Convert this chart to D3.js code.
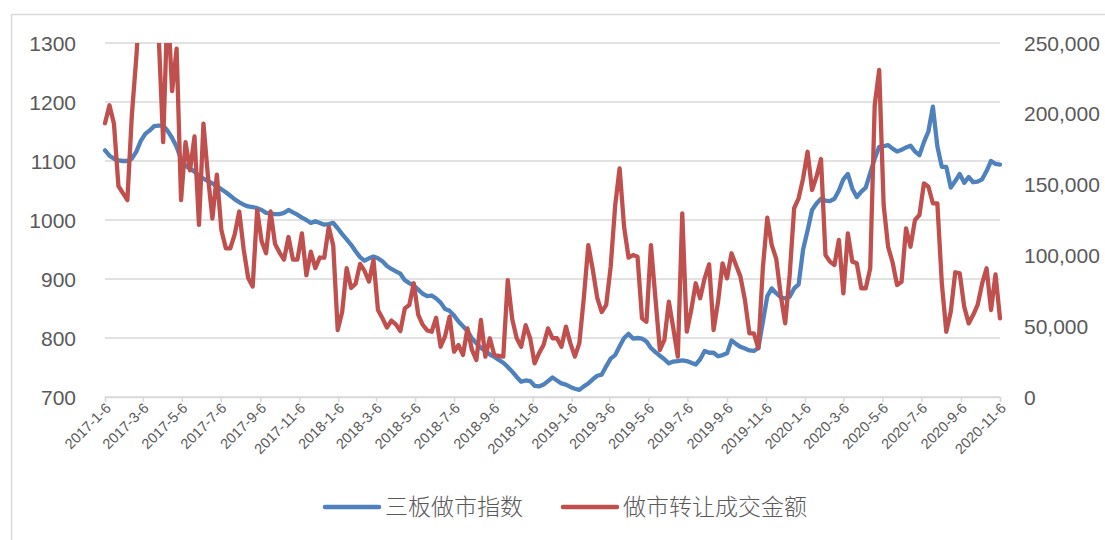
<!DOCTYPE html>
<html>
<head>
<meta charset="utf-8">
<script src="https://cdn.jsdelivr.net/npm/d3@7"></script>
<style>
body { margin: 0; background: #fff; }
text { font-family: "Liberation Sans", Arial, sans-serif; fill: #595959; }
.legend text { font-family: "Noto Sans CJK SC", sans-serif; font-weight: 300; }
</style>
</head>
<body>
<div id="chart"></div>
<script>
// weekly closing values, first week 2017-1-6
var indexValues = [
    1118, 1109, 1104, 1101, 1100, 1100, 1104, 1116, 1134, 1146,
    1152, 1159, 1160, 1160, 1151, 1139, 1124, 1103, 1092, 1087,
    1082, 1075, 1070, 1066, 1062, 1057, 1052, 1047, 1041, 1035,
    1030, 1026, 1023, 1022, 1020, 1017, 1012, 1011, 1010, 1010,
    1012, 1017, 1013, 1009, 1004, 1000, 995, 998, 995, 992,
    993, 995, 986, 976, 967, 958, 947, 937, 931, 935,
    938, 935, 930, 922, 917, 913, 909, 898, 893, 889,
    882, 875, 871, 872, 867, 860, 849, 846, 838, 828,
    820, 812, 799, 791, 783, 778, 772, 768, 763, 758,
    751, 743, 734, 726, 728, 727, 719, 718, 721, 727,
    733, 728, 723, 721, 717, 714, 712, 718, 723, 730,
    736, 738, 752, 765, 771, 786, 800, 807, 799, 800,
    799, 794, 783, 776, 770, 764, 757, 760, 761, 762,
    761, 758, 755, 764, 778, 775, 775, 769, 771, 774,
    796, 790, 785, 782, 779, 778, 783, 827, 871, 884,
    876, 869, 867, 870, 884, 891, 950, 982, 1017, 1028,
    1036, 1033, 1032, 1036, 1050, 1069, 1078, 1053, 1039, 1048,
    1055, 1080, 1104, 1124, 1125, 1127, 1121, 1116, 1119, 1123,
    1126, 1116, 1110, 1132, 1150, 1192, 1125, 1090, 1090, 1055,
    1066, 1078, 1063, 1073, 1064, 1065, 1069, 1083, 1100, 1095, 1094
];

var amountValues = [
    193300, 206000, 193000, 149000, 144000, 139000, 199000, 240000, 290000, 300000,
    280000, 290000, 255000, 180000, 280000, 216000, 246000, 139000, 180000, 160000,
    184000, 121500, 193000, 156000, 126000, 157000, 118000, 105000, 105000, 115000,
    131000, 104000, 84000, 78000, 132000, 110000, 101500, 131000, 108000, 102000,
    97000, 113000, 97000, 97000, 115600, 86000, 102600, 91000, 98500, 98400,
    120000, 107000, 47300, 60000, 91000, 77000, 80000, 94000, 89000, 81500,
    96800, 61400, 55600, 49000, 54000, 51300, 46500, 62600, 65000, 80300,
    58000, 51000, 47000, 46100, 56000, 35500, 43000, 56700, 32000, 36700,
    29700, 48500, 33200, 26100, 54400, 28500, 41500, 29700, 29000, 28500,
    82600, 55000, 41500, 35500, 50800, 41500, 23800, 31000, 36700, 48500,
    41500, 41500, 35500, 49700, 37900, 28500, 38000, 70000, 107300, 90000,
    70000, 60000, 65000, 92000, 135000, 161500, 120000, 98400, 100300, 99100,
    55600, 53200, 107300, 69700, 33200, 40300, 67300, 48500, 28500, 129700,
    46100, 61400, 80300, 69700, 83800, 93700, 47300, 67300, 94400, 83800,
    101500, 93200, 85000, 68500, 45000, 45000, 34400, 90900, 126600, 107300,
    97500, 72000, 52000, 86200, 133300, 140300, 154400, 173200, 146200, 155600,
    168100, 100300, 95600, 93200, 110900, 73200, 115600, 95600, 94400, 76800,
    76800, 90900, 206000, 231000, 135600, 106000, 95000, 79100, 81400, 119100,
    106100, 125000, 128500, 150900, 148500, 136800, 136800, 80300, 46100, 60200,
    88100, 87400, 63800, 52000, 57900, 65000, 80000, 90900, 61400, 86600, 55600
];

var tickLabels = [
    '2017-1-6', '2017-3-6', '2017-5-6', '2017-7-6', '2017-9-6', '2017-11-6',
    '2018-1-6', '2018-3-6', '2018-5-6', '2018-7-6', '2018-9-6', '2018-11-6',
    '2019-1-6', '2019-3-6', '2019-5-6', '2019-7-6', '2019-9-6', '2019-11-6',
    '2020-1-6', '2020-3-6', '2020-5-6', '2020-7-6', '2020-9-6', '2020-11-6'
];
var leftTicks = [700, 800, 900, 1000, 1100, 1200, 1300];
var rightTicks = [0, 50000, 100000, 150000, 200000, 250000];
var seriesNames = ['三板做市指数', '做市转让成交金额'];
var seriesColors = ['#4f81bd', '#c0504d'];

var margin = { top: 43, left: 105, bottom: 143, right: 105 },
    width = 1105 - margin.left - margin.right,
    height = 540 - margin.top - margin.bottom;

var parseDay = function (s) {
    var p = s.split('-');
    return new Date(+p[0], +p[1] - 1, +p[2]);
};

var start = parseDay('2017-1-6');
var dates = indexValues.map((d, i) => d3.timeDay.offset(start, i * 7));

var root = d3.select('#chart').append('svg')
    .attr('width', 1105)
    .attr('height', 540);

// chart frame
root.append('rect')
    .attr('x', 11.5).attr('y', 14.5)
    .attr('width', 1110).attr('height', 560)
    .attr('fill', 'none')
    .attr('stroke', '#d9d9d9')
    .attr('stroke-width', 1.5);

var svg = root.append('g')
    .attr('transform', 'translate(' + margin.left + ',' + margin.top + ')');

var x = d3.scaleTime()
    .domain([start, parseDay('2020-11-6')])
    .range([0, width]);
var y = d3.scaleLinear().domain([700, 1300]).range([height, 0]);
var y2 = d3.scaleLinear().domain([0, 250000]).range([height, 0]);

svg.append('clipPath').attr('id', 'plot')
    .append('rect').attr('x', -5).attr('y', 0)
    .attr('width', width + 10).attr('height', height + 5);

// gridlines
svg.selectAll('.grid')
    .data(leftTicks)
    .enter().append('line')
    .attr('class', 'grid')
    .attr('x1', 0).attr('x2', width)
    .attr('y1', d => y(d)).attr('y2', d => y(d))
    .attr('stroke', '#d9d9d9')
    .attr('stroke-width', 1.5);

// x axis
var tickDates = tickLabels.map(parseDay);
var xAxis = d3.axisBottom(x)
    .tickValues(tickDates)
    .tickSize(5)
    .tickFormat((d, i) => tickLabels[i]);

var gx = svg.append('g')
    .attr('transform', 'translate(0,' + height + ')')
    .call(xAxis);
gx.select('.domain').attr('stroke', '#d9d9d9').attr('stroke-width', 1.5);
gx.selectAll('.tick line').attr('stroke', '#d9d9d9').attr('stroke-width', 1.5);
gx.selectAll('.tick text')
    .attr('text-anchor', 'end')
    .attr('dx', null).attr('dy', null)
    .attr('x', -4).attr('y', 13)
    .attr('transform', 'rotate(-45)')
    .style('font-size', '14.5px')
    .style('fill', '#595959');

// left axis labels
svg.selectAll('.ylab')
    .data(leftTicks)
    .enter().append('text')
    .attr('class', 'ylab')
    .attr('x', -29)
    .attr('y', d => y(d))
    .attr('dy', '0.36em')
    .attr('text-anchor', 'end')
    .style('font-size', '21px')
    .text(d => d);

// right axis labels
svg.selectAll('.y2lab')
    .data(rightTicks)
    .enter().append('text')
    .attr('class', 'y2lab')
    .attr('x', width + 24)
    .attr('y', d => y2(d))
    .attr('dy', '0.36em')
    .attr('text-anchor', 'start')
    .style('font-size', '21px')
    .text(d => d3.format(',')(d));

var lineIndex = d3.line()
    .x((d, i) => x(dates[i]))
    .y(d => y(d));
var lineAmount = d3.line()
    .x((d, i) => x(dates[i]))
    .y(d => y2(d));

var lines = svg.append('g').attr('clip-path', 'url(#plot)');

lines.append('path')
    .datum(indexValues)
    .attr('d', lineIndex)
    .attr('fill', 'none')
    .attr('stroke', seriesColors[0])
    .attr('stroke-width', 4.3)
    .attr('stroke-linejoin', 'round')
    .attr('stroke-linecap', 'round');

lines.append('path')
    .datum(amountValues)
    .attr('d', lineAmount)
    .attr('fill', 'none')
    .attr('stroke', seriesColors[1])
    .attr('stroke-width', 4.3)
    .attr('stroke-linejoin', 'round')
    .attr('stroke-linecap', 'round');

// legend
var legendPos = [325, 563];
var legend = root.append('g').attr('class', 'legend');
seriesNames.forEach(function (name, i) {
    legend.append('line')
        .attr('x1', legendPos[i]).attr('x2', legendPos[i] + 54)
        .attr('y1', 507).attr('y2', 507)
        .attr('stroke', seriesColors[i])
        .attr('stroke-width', 4.5)
        .attr('stroke-linecap', 'round');
    legend.append('text')
        .attr('x', legendPos[i] + 60)
        .attr('y', 507)
        .attr('dy', '0.35em')
        .style('font-size', '23px')
        .text(name);
});
</script>
</body>
</html>
